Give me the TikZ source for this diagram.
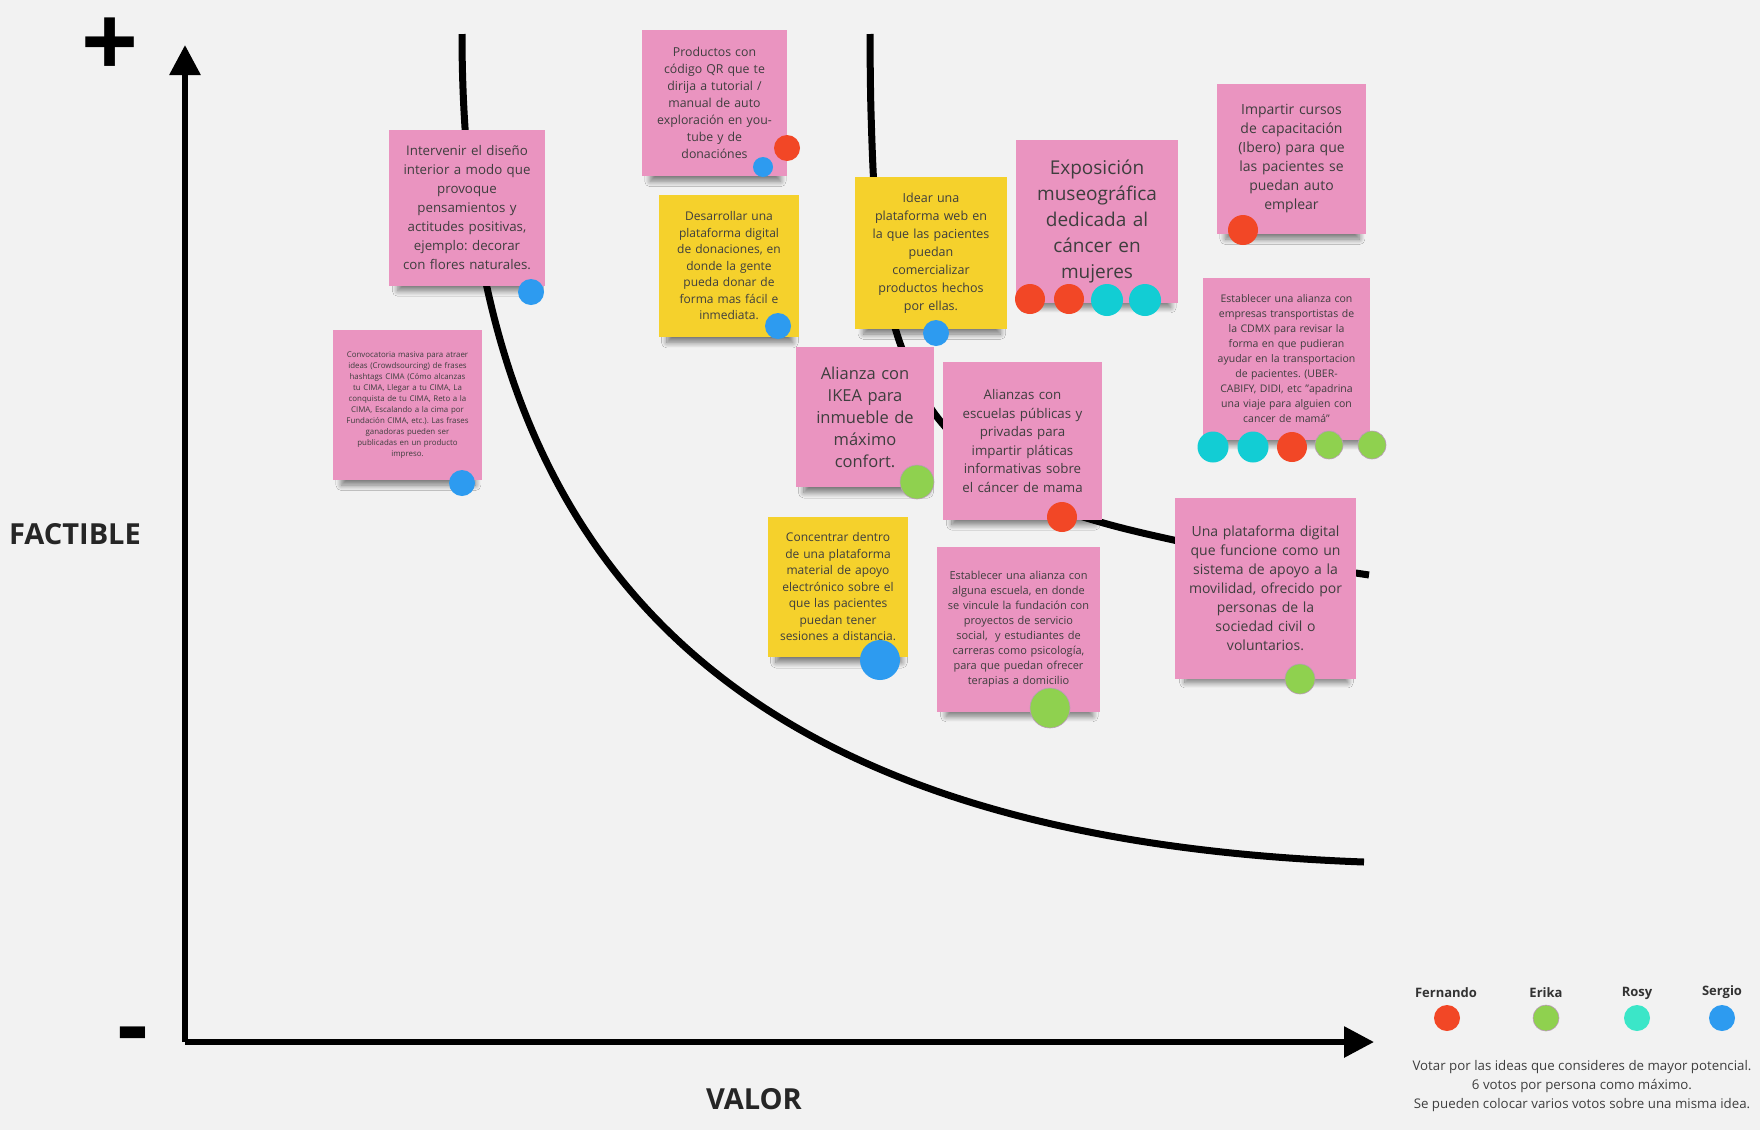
\documentclass[tikz,border=0pt]{standalone}
\usepackage{fontspec}
\setmainfont{Open Sans}
\usepackage{xcolor}
\usetikzlibrary{arrows.meta,shadows.blur}
\definecolor{bgcol}{HTML}{F2F2F2}
\definecolor{notepink}{HTML}{EA94C0}
\definecolor{noteyellow}{HTML}{F5D12C}
\definecolor{ink}{HTML}{3E3E3E}
\definecolor{votered}{HTML}{F24726}
\definecolor{votegreen}{HTML}{8FD14F}
\definecolor{votecyan}{HTML}{12CDD4}
\definecolor{votemint}{HTML}{3BE6C8}
\definecolor{voteblue}{HTML}{2D9BF0}
\frenchspacing

\begin{document}
\begin{tikzpicture}[x=1pt,y=-1pt,
  note/.style={inner sep=0pt,align=center,text=ink,
    blur shadow={shadow xshift=1pt,shadow yshift=-14pt,shadow scale=0.9,
      shadow blur radius=6pt,shadow blur steps=12,shadow opacity=50}},
  pink/.style={note,fill=notepink},
  yellow/.style={note,fill=noteyellow},
  vote/.style={circle,inner sep=0pt,minimum size=#1},
  votegr/.style={vote=#1,fill=votegreen,draw=black!35!violet!40,line width=0.6pt},
  axis/.style={line width=6pt,-{Triangle[length=30pt,width=30pt]}},
  curve/.style={line width=7pt}]
  \fill[bgcol] (0,0) rectangle (1760,1130);
  \useasboundingbox (0,0) rectangle (1760,1130);

  \draw[curve] (462,34) .. controls (462,590) and (760,840) .. (1364,862);
  \draw[curve,smooth,tension=0.6] plot coordinates {(870,34) (871,112) (875,202) (884,281) (896,331) (911,370)
    (932,410) (960,443) (988,471) (1033,499) (1100,522) (1178,541) (1268,559) (1369,575)};

  \coordinate (origin) at (185,1042);
  \coordinate (ytip) at (185,45);
  \coordinate (xtip) at (1374,1042);
  \draw[axis] (origin) -- (ytip);
  \draw[axis] (origin) -- (xtip);
  \node[inner sep=0pt,font=\fontsize{100}{100}\bfseries\selectfont] (mas) at (110,48) {+};
  \node[inner sep=0pt,font=\fontsize{96}{96}\bfseries\selectfont] (menos) at (133,1043) {-};
  \node[font=\fontsize{29}{29}\bfseries\selectfont,text=black!85] (factible) at (75,534) {FACTIBLE};
  \node[font=\fontsize{29}{29}\bfseries\selectfont,text=black!85] (valor) at (754,1099) {VALOR};

  \node[pink,minimum width=156pt,minimum height=156pt,text width=150pt,
    font=\fontsize{13.3}{19}\selectfont] (diseno) at (467,208)
    {Intervenir el diseño\\interior a modo que\\provoque\\pensamientos y\\actitudes positivas,\\ejemplo: decorar\\con flores naturales.};
  \node[pink,minimum width=149pt,minimum height=150pt,text width=145pt,
    font=\fontsize{7.9}{11}\selectfont] (convoca) at (407.5,405)
    {Convocatoria masiva para atraer\\ideas (Crowdsourcing) de frases\\hashtags CIMA (Cómo alcanzas\\tu CIMA, Llegar a tu CIMA, La\\conquista de tu CIMA, Reto a la\\CIMA, Escalando a la cima por\\Fundación CIMA, etc.). Las frases\\ganadoras pueden ser\\publicadas en un producto\\impreso.};
  \node[pink,minimum width=145pt,minimum height=146pt,text width=140pt,
    font=\fontsize{12.3}{17}\selectfont] (qr) at (714.5,103)
    {Productos con\\código QR que te\\dirija a tutorial /\\manual de auto\\exploración en you-\\tube y de\\donaciónes};
  \node[yellow,minimum width=140pt,minimum height=142pt,text width=136pt,
    font=\fontsize{12}{16.5}\selectfont] (donar) at (729,266)
    {Desarrollar una\\plataforma digital\\de donaciones, en\\donde la gente\\pueda donar de\\forma mas fácil e\\inmediata.};
  \node[yellow,minimum width=152pt,minimum height=152pt,text width=148pt,
    font=\fontsize{12.5}{18}\selectfont] (web) at (931,253)
    {Idear una\\plataforma web en\\la que las pacientes\\puedan\\comercializar\\productos hechos\\por ellas.};
  \node[pink,minimum width=162pt,minimum height=163pt,text width=158pt,
    font=\fontsize{19}{26}\selectfont] (museo) at (1097,221.5)
    {Exposición\\museográfica\\dedicada al\\cáncer en\\mujeres};
  \node[pink,minimum width=149pt,minimum height=150pt,text width=145pt,
    font=\fontsize{14}{19}\selectfont] (cursos) at (1291.5,159)
    {Impartir cursos\\de capacitación\\(Ibero) para que\\las pacientes se\\puedan auto\\emplear};
  \node[pink,minimum width=167pt,minimum height=162pt,text width=163pt,
    font=\fontsize{10.5}{15}\selectfont] (transporte) at (1286.5,359)
    {Establecer una alianza con\\empresas transportistas de\\la CDMX para revisar la\\forma en que pudieran\\ayudar en la transportacion\\de pacientes. (UBER-\\CABIFY, DIDI, etc "apadrina\\una viaje para alguien con\\cancer de mamá"};
  \node[pink,minimum width=138pt,minimum height=140pt,text width=134pt,
    font=\fontsize{16.5}{22}\selectfont] (ikea) at (865,417)
    {Alianza con\\IKEA para\\inmueble de\\máximo\\confort.};
  \node[pink,minimum width=159pt,minimum height=158pt,text width=155pt,
    font=\fontsize{13.3}{18.5}\selectfont] (platicas) at (1022.5,441)
    {Alianzas con\\escuelas públicas y\\privadas para\\impartir pláticas\\informativas sobre\\el cáncer de mama};
  \node[yellow,minimum width=140pt,minimum height=140pt,text width=136pt,
    font=\fontsize{12}{16.5}\selectfont] (distancia) at (838,587)
    {Concentrar dentro\\de una plataforma\\material de apoyo\\electrónico sobre el\\que las pacientes\\puedan tener\\sesiones a distancia.};
  \node[pink,minimum width=163pt,minimum height=165pt,text width=159pt,
    font=\fontsize{11}{15}\selectfont] (domicilio) at (1018.5,629.5)
    {Establecer una alianza con\\alguna escuela, en donde\\se vincule la fundación con\\proyectos de servicio\\social,\ \ y estudiantes de\\carreras como psicología,\\para que puedan ofrecer\\terapias a domicilio};
  \node[pink,minimum width=181pt,minimum height=181pt,text width=177pt,
    font=\fontsize{14}{19}\selectfont] (movilidad) at (1265.5,588.5)
    {Una plataforma digital\\que funcione como un\\sistema de apoyo a la\\movilidad, ofrecido por\\personas de la\\sociedad civil o\\voluntarios.};

  \node[vote=26pt,fill=voteblue] (v1) at (531,292) {};
  \node[vote=26pt,fill=voteblue] (v2) at (462,483) {};
  \node[vote=26pt,fill=votered] (v3) at (787,148) {};
  \node[vote=20pt,fill=voteblue] (v4) at (763,167) {};
  \node[vote=26pt,fill=voteblue] (v5) at (778,326) {};
  \node[vote=26pt,fill=voteblue] (v6) at (936,333) {};
  \node[vote=30pt,fill=votered] (v7) at (1030,299) {};
  \node[vote=30pt,fill=votered] (v8) at (1069,299) {};
  \node[vote=32pt,fill=votecyan] (v9) at (1107,300) {};
  \node[vote=32pt,fill=votecyan] (v10) at (1145,300) {};
  \node[vote=30pt,fill=votered] (v11) at (1243,230) {};
  \node[vote=31pt,fill=votecyan] (v12) at (1213,447) {};
  \node[vote=31pt,fill=votecyan] (v13) at (1253,447) {};
  \node[vote=30pt,fill=votered] (v14) at (1292,447) {};
  \node[votegr=28pt] (v15) at (1329,445) {};
  \node[votegr=28pt] (v16) at (1372,445) {};
  \node[votegr=34pt] (v17) at (917,482) {};
  \node[vote=30pt,fill=votered] (v18) at (1062,517) {};
  \node[vote=40pt,fill=voteblue] (v19) at (880,660) {};
  \node[votegr=40pt] (v20) at (1050,708) {};
  \node[votegr=30pt] (v21) at (1300,679) {};

  \node[font=\fontsize{13}{13}\bfseries\selectfont,text=black!80] (fernando) at (1446,993) {Fernando};
  \node[font=\fontsize{13}{13}\bfseries\selectfont,text=black!80] (erika) at (1546,993) {Erika};
  \node[font=\fontsize{13}{13}\bfseries\selectfont,text=black!80] (rosy) at (1637,993) {Rosy};
  \node[font=\fontsize{13}{13}\bfseries\selectfont,text=black!80] (sergio) at (1722,992) {Sergio};
  \node[vote=26pt,fill=votered] (lfer) at (1447,1018) {};
  \node[votegr=26pt] (leri) at (1546,1018) {};
  \node[vote=26pt,fill=votemint] (lros) at (1637,1018) {};
  \node[vote=26pt,fill=voteblue] (lser) at (1722,1018) {};
  \node[align=center,text=ink,font=\fontsize{13.3}{19}\selectfont] (nota) at (1582,1086)
    {Votar por las ideas que consideres de mayor potencial.\\6 votos por persona como máximo.\\Se pueden colocar varios votos sobre una misma idea.};
\end{tikzpicture}
\end{document}
